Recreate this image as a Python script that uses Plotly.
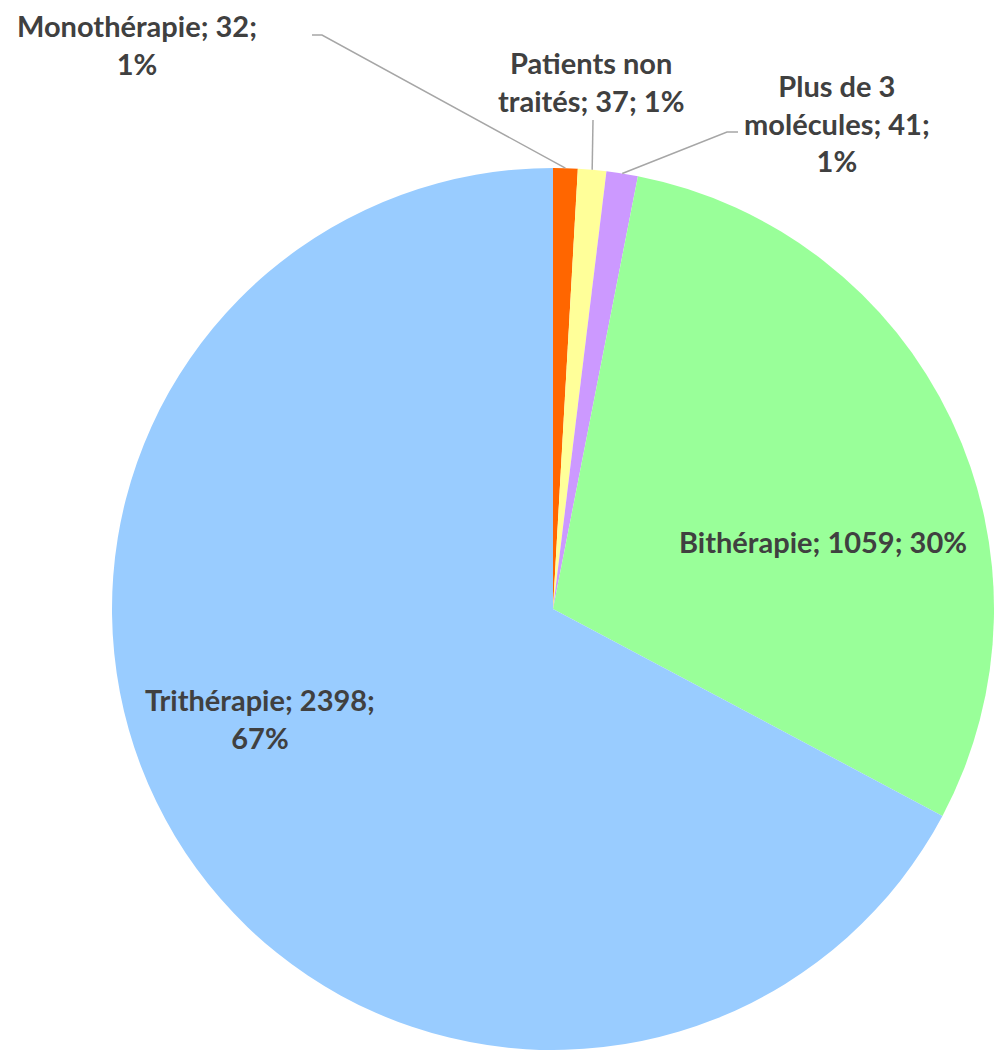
import math
import plotly.graph_objects as go

# data
categories = ["Monothérapie", "Patients non traités", "Plus de 3 molécules", "Bithérapie", "Trithérapie"]
values = [32, 37, 41, 1059, 2398]
percents = ["1%", "1%", "1%", "30%", "67%"]
colors = ["#FF6600", "#FFFF99", "#CC99FF", "#99FF99", "#99CCFF"]

W, H = 994, 1052
CX, CY, R = 553, 609, 441  # pie centre / radius in pixels
TEXT_COLOR = "#404040"
FONT = dict(family="Lato, 'Open Sans', sans-serif", size=29, color=TEXT_COLOR, weight="bold")

fig = go.Figure(
    go.Pie(
        labels=categories,
        values=values,
        marker=dict(colors=colors, line=dict(width=0)),
        sort=False,
        direction="clockwise",
        rotation=0,
        textinfo="none",
        hoverinfo="label+value+percent",
        domain=dict(x=[(CX - R) / W, (CX + R) / W], y=[(H - CY - R) / H, (H - CY + R) / H]),
    )
)


def px(x, y):
    return x / W, 1 - y / H


# label text: name; value; percent, with line breaks like the original
label_texts = [
    "Monothérapie; 32;<br>1%",
    "Patients non<br>traités; 37; 1%",
    "Plus de 3<br>molécules; 41;<br>1%",
    "Bithérapie; 1059; 30%",
    "Trithérapie; 2398;<br>67%",
]
label_pos = [(137, 45), (591, 81), (837, 123), (823, 541), (260, 718)]

for txt, (lx, ly) in zip(label_texts, label_pos):
    ax, ay = px(lx, ly)
    fig.add_annotation(
        x=ax, y=ay, xref="paper", yref="paper", text=txt, showarrow=False,
        font=FONT, align="center", xanchor="center", yanchor="middle",
    )

# leader lines for the three small slices, anchored at slice mid-angle
total = sum(values)
elbows = [[(322, 35), (312, 35)], [(593, 120)], [(727, 132), (738, 132)]]
cum = 0
for i, v in enumerate(values):
    mid = (cum + v / 2) / total * 2 * math.pi
    cum += v
    if i >= 3:
        continue
    sx = CX + R * math.sin(mid)
    sy = CY - R * math.cos(mid)
    pts = [(sx, sy)] + elbows[i]
    path = "M " + " L ".join(f"{px(x, y)[0]},{px(x, y)[1]}" for x, y in pts)
    fig.add_shape(type="path", path=path, xref="paper", yref="paper",
                  line=dict(color="#A6A6A6", width=1.5))

fig.update_layout(
    width=W, height=H,
    margin=dict(l=0, r=0, t=0, b=0),
    showlegend=False,
    paper_bgcolor="white",
    plot_bgcolor="white",
)

# drop the default page margin so the figure sits at the window's corner
fig.write_html(
    "out.html",
    config={"displayModeBar": False},
    post_script="document.body.style.margin='0';document.body.style.overflow='hidden';",
)
